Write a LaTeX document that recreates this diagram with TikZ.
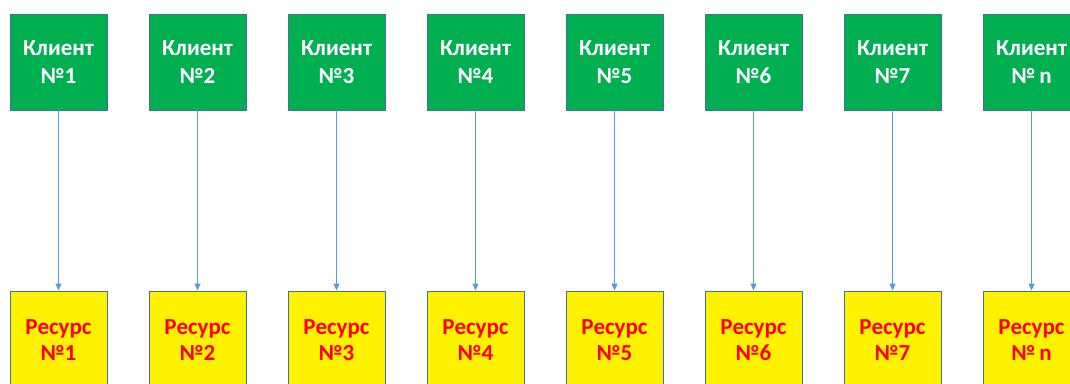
\documentclass[tikz,border=0pt]{standalone}
\usepackage{fontspec}
\setmainfont{Carlito}
\usetikzlibrary{arrows.meta}
\definecolor{cgreen}{HTML}{00B050}
\definecolor{cborder}{HTML}{41719C}
\definecolor{carrow}{HTML}{5B9BD5}
\begin{document}
\begin{tikzpicture}[x=1pt,y=-1pt,
  client/.style={draw=cborder,line width=0.9pt,fill=cgreen,minimum width=97pt,minimum height=96pt,inner sep=0pt,
    text=white,font=\fontsize{23}{28}\selectfont\bfseries,align=center},
  resource/.style={draw=cborder,line width=0.9pt,fill=yellow,minimum width=97pt,minimum height=96pt,inner sep=0pt,
    text=red,font=\fontsize{23}{26}\selectfont\bfseries,align=center},
  link/.style={draw=carrow,line width=0.9pt,-{Triangle[length=7pt,width=6pt]}}]
\useasboundingbox (0,0) rectangle (1070,383);
\clip (0,0) rectangle (1070,383);
\foreach \i/\lab in {0/1,1/2,2/3,3/4,4/5,5/6,6/7,7/{\,n}}{
  \node[client] (c\i) at ({58.5+139*\i},62) {Клиент\\№\lab};
  \node[resource,text depth=0pt] (r\i) at ({58.5+139*\i},339) {\raisebox{-3pt}{Ресурс}\\\raisebox{-3pt}{№\lab}};
  \draw[link] (c\i) -- (r\i);
}
\end{tikzpicture}
\end{document}
